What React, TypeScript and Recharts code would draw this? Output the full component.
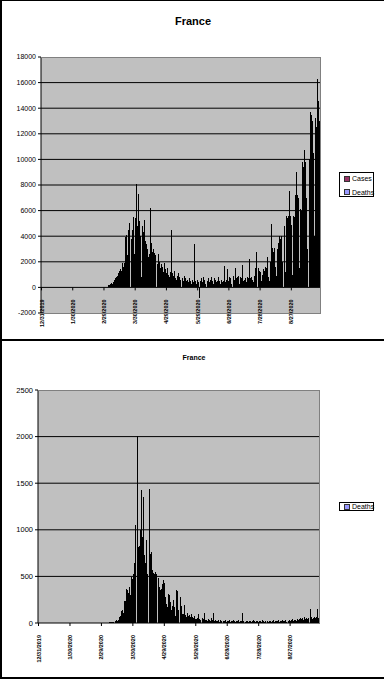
import React from 'react';
import { BarChart, Bar, XAxis, YAxis, CartesianGrid, ReferenceLine, Legend } from 'recharts';

const FONT = '"Liberation Sans", Arial, sans-serif';

// Daily categories start at 12/31/2019, 269 days
const START_DATE = Date.UTC(2019, 11, 31);

const CASES = [
  0, 0, 0, 0, 0, 0, 0, 0, 0, 0,
  0, 0, 0, 0, 0, 0, 0, 0, 0, 0,
  0, 0, 0, 0, 0, 3, 0, 0, 0, 1,
  1, 0, 0, 0, 0, 0, 0, 0, 5, 0,
  0, 0, 0, 1, 0, 0, 0, 0, 0, 0,
  0, 0, 0, 0, 0, 0, 2, 4, 20, 19,
  43, 30, 61, 21, 200, 190, 280, 340, 290, 450,
  600, 700, 800, 900, 1100, 1300, 1400, 1250, 1900, 1600,
  1900, 3900, 4100, 2500, 4500, 5000, 3800, 4500, 5500, 2600,
  5400, 8100, 4800, 7300, 5200, 4000, 0, 4800, 4300, 5300,
  3600, 3400, 3000, 2400, 2600, 6200, 3500, 2800, 3000, 2700,
  2500, 1800, 2600, 2000, 1500, 1800, 1600, 1200, 1900, 1400,
  1100, 1500, 1000, 800, 1200, 4500, 1100, 900, 1300, 700,
  600, 900, 1100, 800, 600, 700, 500, 900, 700, 500,
  600, 400, 700, 500, 300, 600, 400, 3400, 500, 300,
  600, 400, -800, 500, 700, 400, 800, 600, 300, 500,
  700, 400, 600, 800, 500, 300, 700, 600, 400, 500,
  800, 500, 300, 600, 400, 500, 1700, 400, 600, 1400,
  500, 800, 700, 300, 900, 600, 1550, 700, 800, 900,
  300, 800, 700, 1750, 500, 600, 700, 400, 800, 700,
  2200, 700, 800, 600, 400, 900, 1500, 2740, 1500, 1300,
  1200, 500, 1000, 1400, 1300, 1600, 1500, 2350, 800, 500,
  2000, 4960, 3100, 2800, 3100, 1600, 900, 3000, 3500, 4050,
  3800, 4000, 2000, 4800, 1200, 5600, 5400, 5600, 7500, 5600,
  4900, 1000, 5600, 5500, 7200, 9000, 7200, 7000, 1500, 6100,
  6000, 9800, 9400, 10700, 9800, 7000, 3000, 10000, 13700, 13500,
  13000, 10500, 4000, 13200, 12500, 16300, 14600, 13000, 11200,
];

const DEATHS = [
  0, 0, 0, 0, 0, 0, 0, 0, 0, 0,
  0, 0, 0, 0, 0, 0, 0, 0, 0, 0,
  0, 0, 0, 0, 0, 0, 0, 0, 0, 0,
  0, 0, 0, 0, 0, 0, 0, 0, 0, 0,
  0, 0, 0, 0, 0, 0, 1, 0, 0, 0,
  0, 0, 0, 0, 0, 0, 0, 0, 0, 0,
  0, 0, 1, 0, 1, 1, 2, 3, 10, 8,
  15, 15, 12, 18, 36, 21, 27, 60, 70, 125,
  135, 110, 240, 231, 365, 350, 320, 390, 299, 490,
  470, 530, 640, 1050, 2010, 815, 830, 1000, 1424, 920,
  1350, 725, 640, 890, 530, 0, 1440, 745, 760, 565,
  540, 530, 545, 530, 480, 386, 350, 360, 420, 460,
  430, 280, 200, 170, 315, 300, 220, 135, 180, 245,
  170, 70, 350, 340, 135, 280, 180, 100, 100, 190,
  90, 60, 110, 75, 85, 65, 95, 60, 55, 70,
  45, 40, 55, 100, 45, 35, 50, 40, 110, 30,
  35, 25, 45, 30, 20, 55, 30, 107, 25, 30,
  20, 25, 35, 15, 30, 20, 25, 20, 30, 15,
  25, 20, 30, 15, 20, 25, 30, 20, 15, 25,
  20, 30, 15, 25, 20, 107, 20, 15, 25, 20,
  15, 20, 25, 15, 20, 30, 20, 15, 25, 20,
  15, 25, 20, 15, 30, 20, 15, 20, 25, 15,
  20, 25, 15, 20, 30, 15, 20, 25, 20, 30,
  15, 25, 20, 35, 25, 20, 30, 15, 25, 35,
  20, 30, 40, 25, 30, 35, 20, 45, 30, 40,
  55, 40, 50, 35, 60, 45, 55, 40, 50, 150,
  60, 45, 55, 65, 50, 60, 150, 55, 65,
];

const TOP_Y_TICKS = [-2000, 0, 2000, 4000, 6000, 8000, 10000, 12000, 14000, 16000, 18000];
const TOP_GRID = [2000, 4000, 6000, 8000, 10000, 12000, 14000, 16000];
const BOTTOM_Y_TICKS = [0, 500, 1000, 1500, 2000, 2500];
const BOTTOM_GRID = [500, 1000, 1500, 2000];

const SERIES_COLORS: Record<string, string> = { Cases: '#993366', Deaths: '#9999FF' };
const TITLE = 'France';

const formatDate = (i: number) => {
  const d = new Date(START_DATE + i * 86400000);
  return `${d.getUTCMonth() + 1}/${d.getUTCDate()}/${d.getUTCFullYear()}`;
};
const DATES = CASES.map((_, i) => formatDate(i));
const data = DATES.map((date, i) => ({ date, cases: CASES[i], deaths: DEATHS[i] }));

// Geometry
const TOP = { w: 384, h: 341, left: 41, right: 321, top: 57, bottom: 313 };
const BOT = { w: 384, h: 338, offset: 341, left: 38, right: 320, top: 49, bottom: 282 };
const TOP_MIN = -2000;
const TOP_MAX = 18000;

const TopTick = (props: any) => {
  const { x, y, payload } = props;
  const plotH = TOP.bottom - TOP.top;
  const zeroY = y - (plotH * (0 - TOP_MIN)) / (TOP_MAX - TOP_MIN);
  const ty = zeroY + 12;
  return (
    <g>
      <line x1={x} x2={x} y1={zeroY} y2={zeroY + 3} stroke="#000" strokeWidth={1} />
      <text
        x={x + 2}
        y={ty}
        transform={`rotate(-90 ${x + 2} ${ty})`}
        textAnchor="end"
        fontSize={5.5}
        fontWeight="bold"
        fontFamily={FONT}
        fill="#000"
      >
        {payload.value}
      </text>
    </g>
  );
};

const BottomTick = (props: any) => {
  const { x, y, payload } = props;
  const ty = y + 9;
  return (
    <text
      x={x + 2}
      y={ty}
      transform={`rotate(-90 ${x + 2} ${ty})`}
      textAnchor="end"
      fontSize={5.5}
      fontWeight="bold"
      fontFamily={FONT}
      fill="#000"
    >
      {payload.value}
    </text>
  );
};

const makeLegend = (height: number, rowTops: number[]) => (props: any) => {
  const items = (props.payload || []) as any[];
  return (
    <div
      style={{
        width: 35,
        height,
        border: '1px solid #000',
        background: '#fff',
        boxSizing: 'border-box',
        position: 'relative',
        fontFamily: FONT,
        fontSize: 7,
        lineHeight: '7px',
        color: '#000',
      }}
    >
      {items.map((it, i) => (
        <div
          key={String(it.value)}
          style={{ position: 'absolute', left: 4, top: rowTops[i], display: 'flex', alignItems: 'center', height: 7 }}
        >
          <span
            style={{
              display: 'inline-block',
              width: 6,
              height: 6,
              boxSizing: 'border-box',
              border: '1px solid #333',
              background: SERIES_COLORS[String(it.value)],
              marginRight: 2,
            }}
          />
          <span>{it.value}</span>
        </div>
      ))}
    </div>
  );
};

const TopLegend = makeLegend(25, [2, 15.5]);
const BottomLegend = makeLegend(9, [0]);

export default function App() {
  return (
    <div style={{ position: 'absolute', left: 0, top: 0, width: 384, height: 679, overflow: 'hidden', background: '#fff' }}>
      {/* top panel */}
      <div
        style={{
          position: 'absolute', left: 0, top: 0, width: 400, height: 341, boxSizing: 'border-box',
          borderTop: '1px solid #000', borderLeft: '2px solid #000', borderBottom: '2px solid #000',
        }}
      />
      <div
        style={{
          position: 'absolute', left: 0, top: 13, width: 384, textAlign: 'center', fontFamily: FONT,
          fontWeight: 'bold', fontSize: 11, lineHeight: '16px', color: '#000', paddingLeft: 2, boxSizing: 'border-box',
        }}
      >
        {TITLE}
      </div>
      <div style={{ position: 'absolute', left: 0, top: 0 }}>
        <BarChart
          width={TOP.w}
          height={TOP.h}
          data={data}
          margin={{ top: TOP.top, left: 3, right: TOP.w - TOP.right, bottom: TOP.h - TOP.bottom - 20 }}
          barCategoryGap={0}
          barGap={0}
        >
          <CartesianGrid xAxisId="a" fill="#C0C0C0" vertical={false} stroke="#000" strokeWidth={1} horizontalValues={TOP_GRID} />
          <XAxis
            xAxisId="a"
            dataKey="date"
            height={20}
            interval={29}
            axisLine={false}
            tickLine={false}
            tickSize={0}
            tickMargin={0}
            tick={<TopTick />}
          />
          <XAxis xAxisId="b" dataKey="date" hide />
          <YAxis
            width={38}
            domain={[TOP_MIN, TOP_MAX]}
            ticks={TOP_Y_TICKS}
            interval={0}
            axisLine={{ stroke: '#000' }}
            tickLine={{ stroke: '#000' }}
            tickSize={3}
            tickMargin={2}
            tick={{ fontSize: 7, fontFamily: FONT, fill: '#000' }}
          />
          <Bar xAxisId="a" dataKey="cases" name="Cases" fill="#000" isAnimationActive={false} shapeRendering="crispEdges" />
          <Bar xAxisId="b" dataKey="deaths" name="Deaths" fill="#000" isAnimationActive={false} shapeRendering="crispEdges" />
          <ReferenceLine xAxisId="a" y={0} stroke="#000" strokeWidth={1} />
          <Legend
            layout="vertical"
            align="center"
            verticalAlign="middle"
            content={TopLegend}
            wrapperStyle={{ left: 339, top: 172, width: 35, height: 25 }}
          />
        </BarChart>
      </div>
      <div
        style={{
          position: 'absolute', left: TOP.left, top: TOP.top, width: TOP.right - TOP.left, height: TOP.bottom - TOP.top + 1,
          boxSizing: 'border-box', borderTop: '1px solid #808080', borderRight: '1px solid #808080', borderBottom: '1px solid #808080',
          pointerEvents: 'none',
        }}
      />

      {/* bottom panel */}
      <div
        style={{
          position: 'absolute', left: 0, top: BOT.offset, width: 400, height: 338, boxSizing: 'border-box',
          borderLeft: '2px solid #000', borderBottom: '2px solid #000',
        }}
      />
      <div
        style={{
          position: 'absolute', left: 0, top: 353, width: 384, textAlign: 'center', fontFamily: FONT,
          fontWeight: 'bold', fontSize: 7, lineHeight: '10px', color: '#000', paddingLeft: 4, boxSizing: 'border-box',
        }}
      >
        {TITLE}
      </div>
      <div style={{ position: 'absolute', left: 0, top: BOT.offset }}>
        <BarChart
          width={BOT.w}
          height={BOT.h}
          data={data}
          margin={{ top: BOT.top, left: 3, right: BOT.w - BOT.right, bottom: BOT.h - BOT.bottom - 20 }}
          barCategoryGap={0}
          barGap={0}
        >
          <CartesianGrid fill="#C0C0C0" vertical={false} stroke="#000" strokeWidth={1} horizontalValues={BOTTOM_GRID} />
          <XAxis
            dataKey="date"
            height={20}
            interval={29}
            axisLine={{ stroke: '#000' }}
            tickLine={{ stroke: '#000' }}
            tickSize={3}
            tickMargin={0}
            tick={<BottomTick />}
          />
          <YAxis
            width={35}
            domain={[0, 2500]}
            ticks={BOTTOM_Y_TICKS}
            interval={0}
            axisLine={{ stroke: '#000' }}
            tickLine={{ stroke: '#000' }}
            tickSize={3}
            tickMargin={2}
            tick={{ fontSize: 7.5, fontFamily: FONT, fill: '#000' }}
          />
          <Bar dataKey="deaths" name="Deaths" fill="#000" isAnimationActive={false} shapeRendering="crispEdges" />
          <Legend
            layout="vertical"
            align="center"
            verticalAlign="middle"
            content={BottomLegend}
            wrapperStyle={{ left: 339, top: 161, width: 35, height: 9 }}
          />
        </BarChart>
      </div>
      <div
        style={{
          position: 'absolute', left: BOT.left, top: BOT.offset + BOT.top, width: BOT.right - BOT.left, height: BOT.bottom - BOT.top,
          boxSizing: 'border-box', borderTop: '1px solid #808080', borderRight: '1px solid #808080',
          pointerEvents: 'none',
        }}
      />
    </div>
  );
}
